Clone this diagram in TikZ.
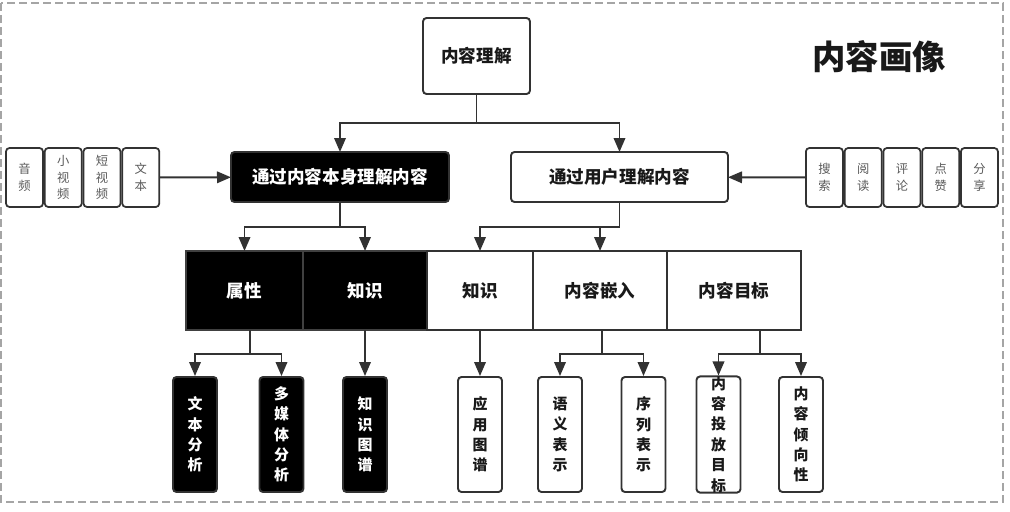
\documentclass[tikz,border=0pt]{standalone}
\usepackage{fontspec}
\setmainfont{Noto Sans CJK SC}
\usepackage{tikz}
\usetikzlibrary{arrows.meta, positioning, calc}
\definecolor{cpLine}{RGB}{50,50,50}
\definecolor{cpInk}{RGB}{25,25,25}
\definecolor{cpSoft}{RGB}{90,90,90}
\definecolor{cpFrame}{RGB}{165,165,165}

\begin{document}
\begin{tikzpicture}[x=0.2mm,y=-0.2mm,
  box/.style={draw=cpLine,line width=1.1pt,rounded corners=2pt,fill=white,
              text=cpInk,font=\bfseries\fontsize{10}{12}\selectfont,
              inner sep=0pt,outer sep=0pt,align=center},
  boxdark/.style={box,fill=black,text=white},
  cell/.style={box,rounded corners=0pt,minimum height=15.8mm},
  celldark/.style={cell,fill=black,text=white,draw=black!75},
  tag/.style={draw=cpLine,line width=1pt,rounded corners=2pt,fill=white,
              text=cpSoft,font=\fontsize{7}{9.5}\selectfont,align=center,
              minimum width=7.4mm,minimum height=11.8mm,inner sep=0pt},
  leaf/.style={draw=cpLine,line width=1.1pt,rounded corners=2pt,fill=white,
               text=cpInk,font=\bfseries\fontsize{8.5}{11.6}\selectfont,align=center,
               minimum width=8.8mm,minimum height=23mm,inner sep=0pt},
  leafdark/.style={leaf,fill=black,text=white},
  link/.style={draw=cpLine,line width=1.1pt},
  arr/.style={link,-{Triangle[length=2.8mm,width=2.3mm]}}]

\useasboundingbox (0,0) rectangle (1010,511);
\draw[cpFrame,line width=0.8pt,dash pattern=on 1.6mm off 0.8mm]
  (1,3) rectangle (1003,502);

% title
\node[font=\bfseries\fontsize{19}{22}\selectfont,text=cpInk] (title) at (879,57) {内容画像};

% ===== top levels =====
\node[box,minimum width=21.4mm,minimum height=15.2mm] (top) at (476.5,56) {内容理解};
\node[boxdark,minimum width=43.6mm,minimum height=10mm] (self) at (340,177) {通过内容本身理解内容};
\node[box,minimum width=43.4mm,minimum height=10mm] (user) at (619.5,177) {通过用户理解内容};

% ===== sources (left) =====
\node[tag] (s1) at (24.5,177.5) {音\\频};
\node[tag,right=0mm of s1] (s2) {小\\视\\频};
\node[tag,right=0mm of s2] (s3) {短\\视\\频};
\node[tag,right=0mm of s3] (s4) {文\\本};

% ===== user signals (right) =====
\node[tag] (u1) at (824.4,177.5) {搜\\索};
\node[tag,right=0mm of u1] (u2) {阅\\读};
\node[tag,right=0mm of u2] (u3) {评\\论};
\node[tag,right=0mm of u3] (u4) {点\\赞};
\node[tag,right=0mm of u4] (u5) {分\\享};

% ===== middle row =====
\node[celldark,minimum width=23.4mm] (attr) at (244.5,290.5) {属性};
\node[celldark,minimum width=24.8mm,right=0mm of attr] (knowA) {知识};
\node[cell,minimum width=21.2mm,right=0mm of knowA] (knowB) {知识};
\node[cell,minimum width=26.8mm,right=0mm of knowB] (embed) {内容嵌入};
\node[cell,minimum width=26.8mm,right=0mm of embed] (goal) {内容目标};

% ===== leaves =====
\node[leafdark] (l1) at (195,434.5) {文\\本\\分\\析};
\node[leafdark] (l2) at (281.5,434.5) {多\\媒\\体\\分\\析};
\node[leafdark] (l3) at (365,434.5) {知\\识\\图\\谱};
\node[leaf] (l4) at (480,434.5) {应\\用\\图\\谱};
\node[leaf] (l5) at (560,434.5) {语\\义\\表\\示};
\node[leaf] (l6) at (643.5,434.5) {序\\列\\表\\示};
\node[leaf] (l7) at (718.5,434.5) {内\\容\\投\\放\\目\\标};
\node[leaf] (l8) at (801,434.5) {内\\容\\倾\\向\\性};

% ===== connectors =====
\draw[arr] (s4) -- (self);
\draw[arr] (u1) -- (user);

\coordinate (j0) at ($(top.south)+(0,-5.8mm)$);
\draw[link] (top) -- (j0);
\draw[arr] (j0) -| (self);
\draw[arr] (j0) -| (user);

\coordinate (j1) at ($(self.south)+(0,-5mm)$);
\draw[link] (self) -- (j1);
\draw[arr] (j1) -| (attr);
\draw[arr] (j1) -| (knowA);

\coordinate (j2) at ($(user.south)+(0,-5mm)$);
\draw[link] (user) -- (j2);
\draw[arr] (j2) -| (knowB);
\draw[arr] (j2) -| (embed);

\coordinate (j3) at ($(attr.south)+(1.1mm,-4.8mm)$);
\draw[link] (attr.south -| j3) -- (j3);
\draw[arr] (j3) -| (l1);
\draw[arr] (j3) -| (l2);

\draw[arr] (knowA) -- (l3);
\draw[arr] (knowB) -- (l4);

\coordinate (j4) at ($(embed.south)+(0.4mm,-4.8mm)$);
\draw[link] (embed.south -| j4) -- (j4);
\draw[arr] (j4) -| (l5);
\draw[arr] (j4) -| (l6);

\coordinate (j5) at ($(goal.south)+(5.2mm,-4.8mm)$);
\draw[link] (goal.south -| j5) -- (j5);
\draw[arr] (j5) -| (l7);
\draw[arr] (j5) -| (l8);
\end{tikzpicture}
\end{document}
